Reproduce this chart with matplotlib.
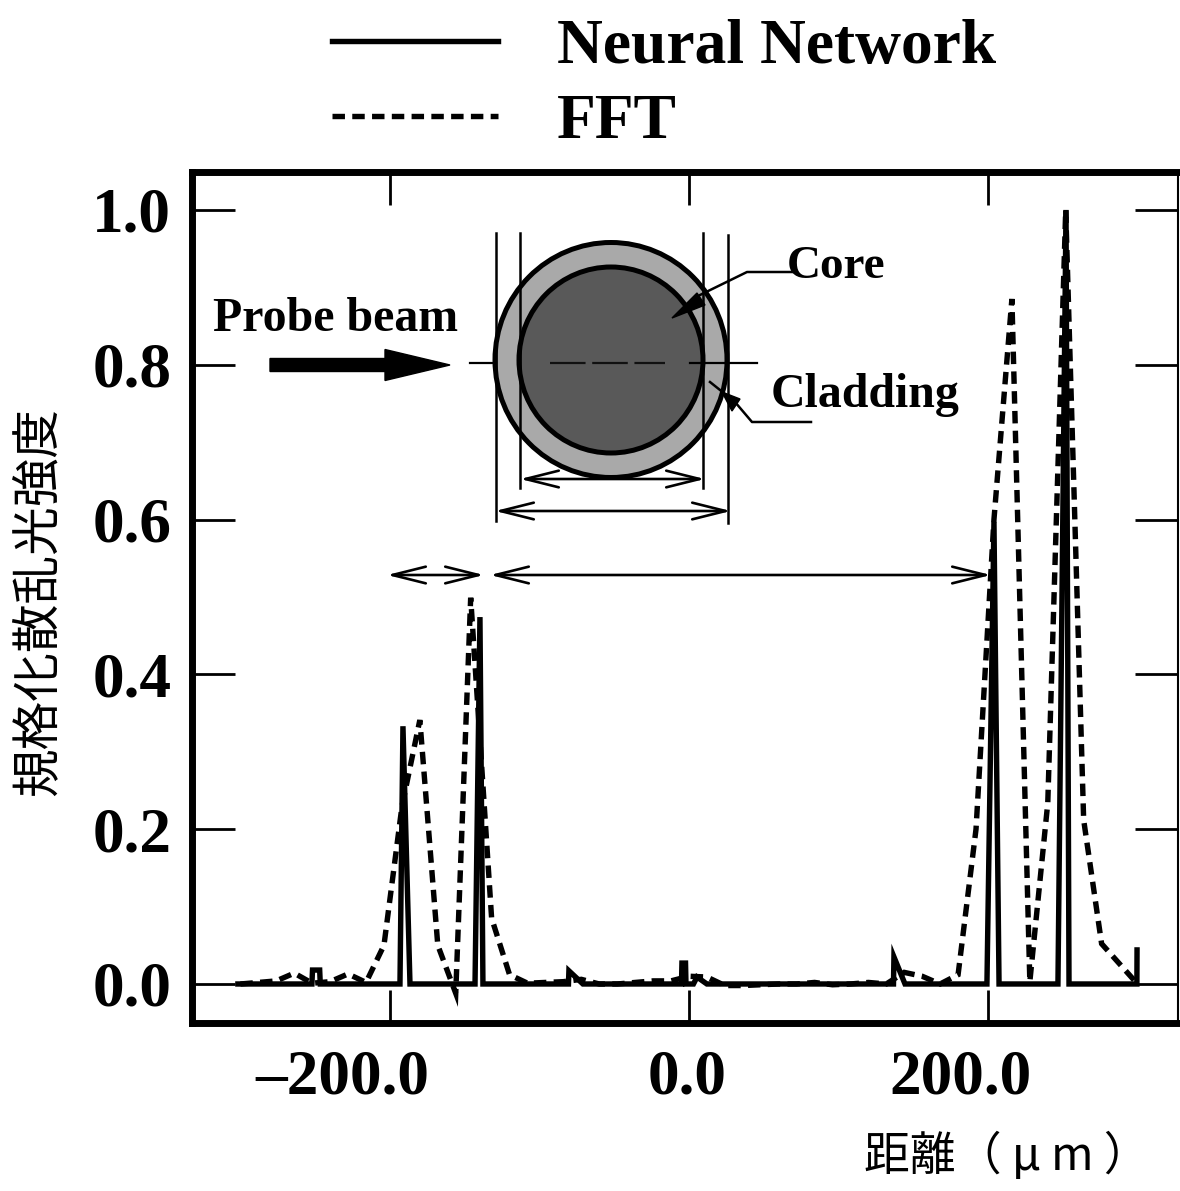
# fiber scattering profile, neural network vs FFT
import matplotlib
matplotlib.use('Agg')
import matplotlib.pyplot as plt
from matplotlib.lines import Line2D
from matplotlib.patches import Ellipse, FancyArrow, Polygon
from matplotlib.transforms import ScaledTranslation

plt.rcParams['font.family'] = ['Liberation Serif', 'DejaVu Serif']

# data
nn_x = [-301.7, -252.2, -251.8, -247.0, -246.6, -193.3, -191.3, -186.6, -143.1, -139.8, -137.8,
        -80.6, -80.3, -70.9, -5.0, -4.7, -2.3, -2.0, 3.0, 5.4, 12.0,
        136.8, 137.1, 144.5, 199.3, 204.0, 207.4, 246.8, 252.2, 254.2, 299.6, 299.7]
nn_y = [0.0, 0.0, 0.018, 0.018, 0.0, 0.0, 0.333, 0.0, 0.0, 0.474, 0.0,
        0.0, 0.017, 0.0, 0.0, 0.027, 0.027, 0.0, 0.0, 0.009, 0.0,
        0.0, 0.035, 0.0, 0.0, 0.597, 0.0, 0.0, 1.0, 0.0, 0.0, 0.044]

fft_x = [-300, -288, -276, -264, -252, -240, -228, -216, -204, -192, -180, -168, -156,
         -146, -132, -120, -108, -96, -84, -72, -60, -48, -36, -24, -12, 0,
         12, 24, 36, 48, 60, 72, 84, 96, 108, 120, 132, 144, 156, 168, 180,
         192, 204, 216, 228, 240, 252, 264, 276, 288, 300]
fft_y = [0.0, 0.002, 0.004, 0.014, 0.001, 0.003, 0.013, 0.002, 0.05, 0.229, 0.341, 0.05, -0.012,
         0.499, 0.085, 0.012, 0.001, 0.002, 0.003, 0.006, 0.0, 0.0, 0.002, 0.004, 0.004, 0.01,
         0.009, -0.002, -0.002, -0.001, 0.0, 0.0, 0.002, -0.001, 0.0, 0.002, 0.0, 0.015, 0.01, 0.0, 0.012,
         0.2, 0.6, 0.885, 0.003, 0.234, 1.0, 0.212, 0.052, 0.026, 0.0]

x_ticks = [-200, 0, 200]
x_labels = ['\u2013200.0', '0.0', '200.0']
y_ticks = [0.0, 0.2, 0.4, 0.6, 0.8, 1.0]
y_labels = ['0.0', '0.2', '0.4', '0.6', '0.8', '1.0']

W, H = 1180, 1191
fig = plt.figure(figsize=(W / 100, H / 100), dpi=100)
ax = fig.add_axes([192 / W, 1 - 1023 / H, (1178 - 192) / W, (1023 - 172) / H])

lw = 3.9
dash = (2.3, 1.35)
ax.plot(nn_x, nn_y, color='k', linewidth=lw, solid_joinstyle='miter', label='Neural Network')
ax.plot(fft_x, fft_y, color='k', linewidth=lw, linestyle=(0, dash), dash_capstyle='butt',
        dash_joinstyle='miter', label='FFT')

ax.set_xlim(-332.4, 327.1)
ax.set_ylim(-0.0504, 1.049)

ax.set_xticks(x_ticks)
ax.set_xticklabels(x_labels, fontsize=45.5, fontweight='bold')
ax.set_yticks(y_ticks)
ax.set_yticklabels(y_labels, fontsize=45.5, fontweight='bold')
ax.tick_params(axis='x', direction='in', length=24, width=2, top=True, pad=19)
ax.tick_params(axis='y', direction='in', length=31, width=2, right=True, pad=15)

# x 标签在原图里偏左
for lab, dx in zip(ax.get_xticklabels(), [-48, -2, -27]):
    lab.set_transform(lab.get_transform() + ScaledTranslation(dx / 100, 0, fig.dpi_scale_trans))

ax.spines['left'].set_linewidth(5)
ax.spines['top'].set_linewidth(5)
ax.spines['bottom'].set_linewidth(5)
ax.spines['right'].set_linewidth(1.5)

cjk = ['Noto Sans CJK JP', 'DejaVu Sans']
fig.text(38 / W, 1 - 602 / H, '規格化散乱光強度', family=cjk, fontsize=35, rotation=90,
         ha='center', va='center')
fig.text(1000 / W, 1 - 1157 / H, '距離（ μ m ）', family=cjk, fontsize=33, ha='center', va='center',
         position=(1007 / W, 1 - 1157 / H))

# legend
handles = [Line2D([], [], color='k', linewidth=lw),
           Line2D([], [], color='k', linewidth=lw, linestyle=(0, dash), dash_capstyle='butt')]
fig.legend(handles, ['Neural Network', 'FFT'], loc='upper left', bbox_to_anchor=(332 / W, 1 - 19 / H),
           bbox_transform=fig.transFigure, frameon=False, borderaxespad=0, borderpad=0,
           handlelength=2.62, handletextpad=0.92, labelspacing=0.26,
           prop={'size': 45.7, 'weight': 'bold', 'family': 'Liberation Serif'})

# fiber cross section, overlay in pixel coordinates
ov = fig.add_axes([0, 0, 1, 1], facecolor='none')
ov.set_xlim(0, W)
ov.set_ylim(H, 0)
ov.axis('off')

ov.add_patch(Ellipse((611, 360), 232, 235, facecolor='#a9a9a9', edgecolor='k', linewidth=3.6))
ov.add_patch(Ellipse((611, 360), 184, 186, facecolor='#595959', edgecolor='k', linewidth=3.6))

for x, y0, y1 in [(496, 233, 521), (520, 233, 488), (703, 233, 488), (728, 235, 523)]:
    ov.plot([x, x], [y0, y1], color='k', linewidth=1.8)

ov.plot([470, 496], [363, 363], color='k', linewidth=1.6)
ov.plot([550, 665], [363, 363], color='#111111', linewidth=1.6, linestyle=(0, (16, 3)))
ov.plot([690, 757], [363, 363], color='k', linewidth=1.6)

ov.add_patch(FancyArrow(270, 365, 180, 0, width=13, head_width=31, head_length=65,
                        length_includes_head=True, color='k'))


def double_arrow(x0, x1, y):
    ov.annotate('', xy=(x1, y), xytext=(x0, y),
                arrowprops=dict(arrowstyle='<->,head_length=2.4,head_width=0.6', mutation_scale=10,
                                color='k', linewidth=1.9, shrinkA=0, shrinkB=0))


double_arrow(520, 705, 479)
double_arrow(495, 731, 511)
double_arrow(387, 484, 575)
double_arrow(490, 991, 575)

# leaders
ov.plot([792, 747, 700], [272, 272, 295], color='k', linewidth=1.8)
ov.add_patch(Polygon([(672, 318), (697, 293), (705, 305)], color='k'))
ov.plot([811, 752, 735], [422, 422, 402], color='k', linewidth=1.8)
ov.plot([735, 710], [402, 382], color='k', linewidth=1.8)
ov.add_patch(Polygon([(722, 392), (740, 399), (732, 411)], color='k'))

ov.text(213, 319, 'Probe beam', fontsize=34.5, fontweight='bold', va='center', ha='left')
ov.text(787, 267, 'Core', fontsize=34, fontweight='bold', va='center', ha='left')
ov.text(771, 395, 'Cladding', fontsize=34.5, fontweight='bold', va='center', ha='left')

plt.savefig('out.png', dpi=100)
